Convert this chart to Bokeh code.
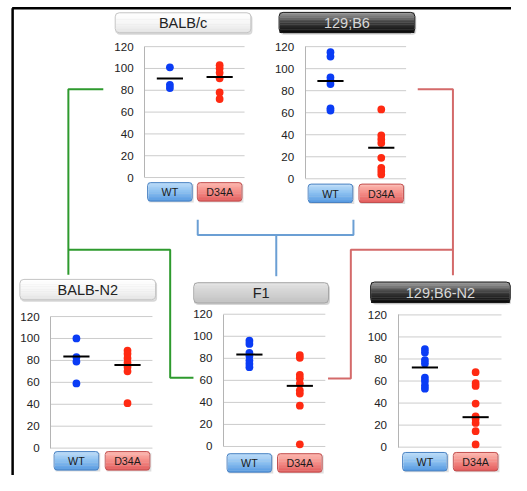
from bokeh.plotting import figure
from bokeh.models import Range1d, LinearAxis, FixedTicker
from bokeh.embed import file_html
from bokeh.resources import INLINE
from bokeh.core.properties import value

# ---------------- data ----------------
categories = ["WT", "D34A"]
tick_values = [0, 20, 40, 60, 80, 100, 120]
tick_labels = ["0", "20", "40", "60", "80", "100", "120"]
panel_names = ["BALB/c", "129;B6", "BALB-N2", "F1", "129;B6-N2"]

balbc_wt = [101, 85, 82]
balbc_d34a = [103, 100, 96, 91, 78, 72]
b6_wt = [115, 111, 92, 89, 86, 64, 62]
b6_d34a = [63, 39.5, 36, 32.5, 19, 10, 7, 4]
n2_wt = [100, 83, 79, 59]
n2_d34a = [89, 86, 82, 78, 74, 70, 41]
f1_wt = [96, 93, 85, 82, 78, 75, 72]
f1_d34a = [83, 80.5, 65, 62, 57, 51, 48, 37, 2]
b6n2_wt = [89, 86, 79, 76, 63, 60, 56, 53]
b6n2_d34a = [68, 58, 55.5, 39.5, 28, 25.5, 22, 14.5, 2.5]

wt_values = [balbc_wt, b6_wt, n2_wt, f1_wt, b6n2_wt]
d34a_values = [balbc_d34a, b6_d34a, n2_d34a, f1_d34a, b6n2_d34a]
mean_wt = [90.7, 88.7, 83.5, 83.4, 72.3]
mean_d34a = [92.2, 28.1, 75.9, 55.0, 27.2]

# ---------------- layout (reference-image pixels) ----------------
FONT = value("Liberation Sans")
W, H = 511, 475
X0, X1 = 0, 527
Y0, Y1 = 491, 0
S = W / (X1 - X0)  # screen px per reference px

# y of value 0, y of value 120, axis x, grid end x, x of WT, x of D34A, button centre y
panels = [
    dict(y0=183.0, y120=47.7, ax=148.7, gx=251.7, xw=174.7, xd=226.0, by=197.8,
         box=(118.3, 258.3, 12.7, 33.3), style="white"),
    dict(y0=184.3, y120=47.7, ax=314.3, gx=418.3, xw=340.3, xd=392.7, by=199.3,
         box=(287.3, 427.3, 12.3, 33.3), style="dark"),
    dict(y0=462.7, y120=326.7, ax=51.7, gx=156.7, xw=78.3, xd=131.0, by=475.8,
         box=(20.0, 160.0, 288.3, 309.3), style="white"),
    dict(y0=461.0, y120=324.3, ax=230.0, gx=335.0, xw=256.7, xd=308.7, by=478.0,
         box=(199.3, 338.3, 291.7, 312.7), style="gray"),
    dict(y0=461.7, y120=325.0, ax=410.0, gx=516.7, xw=437.7, xd=490.0, by=476.7,
         box=(381.7, 525.7, 291.0, 312.3), style="dark"),
]

styles = {
    "white": dict(stops=["#ffffff", "#f6f6f6", "#e6e6e6"], border="#c4c4c4", text="#222222"),
    "gray": dict(stops=["#e2e2e2", "#d2d2d2", "#c2c2c2"], border="#a6a6a6", text="#222222"),
    "dark": dict(stops=["#9a9a9a", "#3c3c3c", "#0c0c0c"], border="#1a1a1a", text="#d8d8d8"),
}
button_styles = [
    dict(stops=["#bcdcf8", "#8cc0f0", "#5a9ce2"], border="#4a82c2"),
    dict(stops=["#fcb8b0", "#f48c86", "#e46060"], border="#c25050"),
]
dot_colors = ["#0a3cf5", "#ff2a12"]


def hex2rgb(h):
    h = h.lstrip("#")
    return [int(h[i:i + 2], 16) for i in (0, 2, 4)]


def gradient(stops, n):
    cols = []
    rgb = [hex2rgb(s) for s in stops]
    for k in range(n):
        t = k / (n - 1) * (len(rgb) - 1)
        i = min(int(t), len(rgb) - 2)
        f = t - i
        c = [round(rgb[i][j] + (rgb[i + 1][j] - rgb[i][j]) * f) for j in range(3)]
        cols.append("#%02x%02x%02x" % tuple(c))
    return cols


p = figure(width=W, height=H, x_range=Range1d(X0, X1), y_range=Range1d(Y0, Y1),
           x_axis_location=None, y_axis_location=None, toolbar_location=None,
           output_backend="svg", min_border=0, outline_line_color=None,
           background_fill_color="white", border_fill_color="white")
p.xgrid.visible = False
p.ygrid.visible = False

# outer black border (left and top)
p.segment(x0=[12.5, 12.0], y0=[8.0, 8.0], x1=[12.5, 527.0], y1=[491.0, 8.0],
          line_color="black", line_width=2.5)

# connectors
p.multi_line(xs=[[106, 70, 70], [70, 175, 175, 199]],
             ys=[[91.7, 91.7, 283.5], [257.7, 257.7, 390, 390]],
             line_color="#2e9a2e", line_width=2)
p.multi_line(xs=[[203.4, 203.4, 364, 364], [284.4, 284.4]],
             ys=[[226.7, 242.3, 242.3, 226.7], [242.3, 285]],
             line_color="#6b9fd4", line_width=2)
p.multi_line(xs=[[430.3, 466.6, 466.6], [466.6, 361.3, 361.3, 337.8]],
             ys=[[91.7, 91.7, 284], [257.7, 257.7, 390.7, 390.7]],
             line_color="#d46a6a", line_width=2)

NSTRIP = 12
for i, pn in enumerate(panels):
    xn, yn = "x%d" % i, "y%d" % i
    xs = (X0 - pn["xw"]) / (pn["xd"] - pn["xw"])
    xe = (X1 - pn["xw"]) / (pn["xd"] - pn["xw"])
    ys = (Y0 - pn["y0"]) / (pn["y120"] - pn["y0"]) * 120
    ye = (Y1 - pn["y0"]) / (pn["y120"] - pn["y0"]) * 120
    p.extra_x_ranges[xn] = Range1d(xs, xe)
    p.extra_y_ranges[yn] = Range1d(ys, ye)

    # title box
    st = styles[pn["style"]]
    l, r, t, b = pn["box"]
    p.quad(left=[l + 1], right=[r + 1.5], top=[t + 2], bottom=[b + 2],
           fill_color="#bdbdbd", fill_alpha=0.6, line_color=None, border_radius=4)
    hh = (b - t) / NSTRIP
    cols = gradient(st["stops"], NSTRIP)
    p.quad(left=[l + 0.5] * NSTRIP, right=[r - 0.5] * NSTRIP,
           top=[t + k * hh for k in range(NSTRIP)],
           bottom=[t + (k + 1) * hh + 0.3 for k in range(NSTRIP)],
           fill_color=cols, line_color=None)
    p.quad(left=[l], right=[r], top=[t], bottom=[b], fill_color=None,
           line_color=st["border"], line_width=1, border_radius=4)
    p.text(x=[(l + r) / 2], y=[(t + b) / 2 + 0.5], text=[panel_names[i]],
           text_font=FONT, text_font_size="14.5px", text_color=st["text"],
           text_align="center", text_baseline="middle")

    # grid lines
    p.segment(x0=[pn["ax"]] * len(tick_values), x1=[pn["gx"]] * len(tick_values),
              y0=tick_values, y1=tick_values, line_color="#cccccc", line_width=1,
              y_range_name=yn)

    # axis
    ax = LinearAxis(y_range_name=yn, fixed_location=pn["ax"], bounds=(0, 120),
                    ticker=FixedTicker(ticks=tick_values),
                    major_label_overrides={v: s for v, s in zip(tick_values, tick_labels)},
                    axis_line_color="#b4b4b4", axis_line_width=1,
                    major_tick_line_color=None, minor_tick_line_color=None,
                    major_tick_in=0, major_tick_out=0, major_label_standoff=11,
                    major_label_text_font="Liberation Sans",
                    major_label_text_font_size="11.6px",
                    major_label_text_color="#222222")
    p.add_layout(ax, "left")

    # buttons
    BW, BH = 46 * S, 19 * S
    for c in range(2):
        bs = button_styles[c]
        bcols = gradient(bs["stops"], NSTRIP)
        p.rect(x=[c + 0.03], y=[pn["by"] + 1.5], width=BW, height=BH,
               width_units="screen", height_units="screen",
               fill_color="#c8c8c8", fill_alpha=0.6, line_color=None,
               x_range_name=xn)
        sh = 19 / NSTRIP
        p.rect(x=[c] * NSTRIP,
               y=[pn["by"] - 19 / 2 + (k + 0.5) * sh for k in range(NSTRIP)],
               width=BW - 1.5, height=sh * S + 0.4, width_units="screen",
               height_units="screen", fill_color=bcols, line_color=None,
               x_range_name=xn)
        p.rect(x=[c], y=[pn["by"]], width=BW, height=BH, width_units="screen",
               height_units="screen", fill_color=None, line_color=bs["border"],
               line_width=1, border_radius=3, x_range_name=xn)
    p.text(x=[0, 1], y=[pn["by"] + 0.5, pn["by"] + 0.5], text=categories,
           text_font=FONT, text_font_size="10.7px", text_color="#1a1a1a",
           text_align="center", text_baseline="middle", x_range_name=xn)

    # dots
    wv, dv = wt_values[i], d34a_values[i]
    p.scatter(x=[0] * len(wv), y=wv, size=8 * S, fill_color=dot_colors[0],
              line_color=None, x_range_name=xn, y_range_name=yn)
    p.scatter(x=[1] * len(dv), y=dv, size=8 * S, fill_color=dot_colors[1],
              line_color=None, x_range_name=xn, y_range_name=yn)
    # means
    p.scatter(x=[0, 1], y=[mean_wt[i], mean_d34a[i]], marker="dash", size=27 * S,
              line_color="black", line_width=2, x_range_name=xn, y_range_name=yn)

open("out.html", "w").write(file_html(p, INLINE))
